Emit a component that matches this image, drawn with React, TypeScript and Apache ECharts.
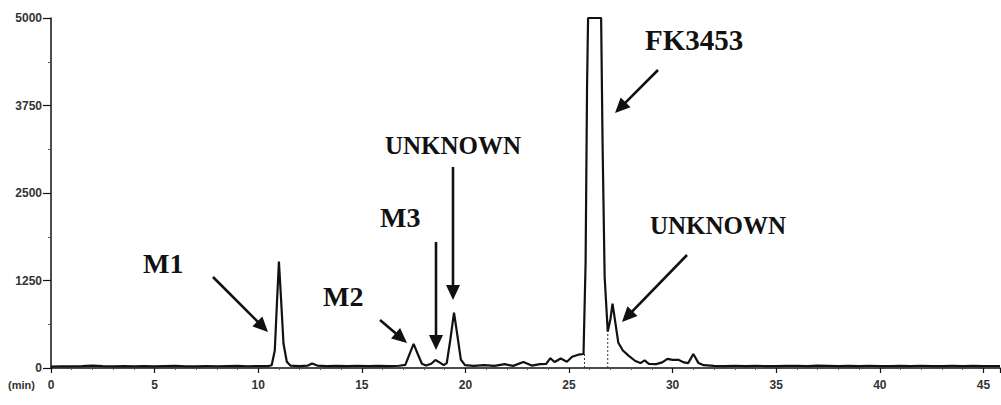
import React, { useEffect, useRef } from "react";
import * as echarts from "echarts";

// Retention time (min) and detector response
const retentionTimes = [
  0, 0.5, 1, 1.5, 2, 2.5, 3, 3.5, 4, 4.5, 5, 5.5, 6, 6.5, 7, 7.5, 8, 8.5, 9, 9.5,
  10, 10.5, 10.65, 10.8, 10.9, 11.0, 11.1, 11.22, 11.38, 11.55, 12, 12.4, 12.6, 12.85,
  13.3, 13.8, 14.3, 14.8, 15.3, 15.8, 16.3, 16.8, 17.1, 17.28, 17.5, 17.7, 17.9,
  18.1, 18.35, 18.55, 18.75, 18.95, 19.1, 19.27, 19.45, 19.62, 19.78, 19.98, 20.4,
  20.9, 21.4, 21.9, 22.3, 22.8, 23.2, 23.6, 23.9, 24.1, 24.3, 24.6, 24.9, 25.15,
  25.45, 25.7, 25.8, 25.87, 25.92, 26.55, 26.62, 26.72, 26.87, 27.0, 27.1, 27.22,
  27.38, 27.6, 27.9, 28.2, 28.45, 28.65, 28.85, 29.2, 29.5, 29.75, 30.0, 30.3,
  30.55, 30.75, 31.0, 31.25, 31.5, 32, 32.5, 33, 33.5, 34, 34.5, 35, 35.5, 36,
  36.5, 37, 37.5, 38, 38.5, 39, 39.5, 40, 40.5, 41, 41.5, 42, 42.5, 43, 43.5, 44,
  44.5, 45, 45.8,
];
const intensity = [
  20, 25, 22, 28, 35, 26, 24, 28, 22, 26, 24, 28, 30, 24, 22, 27, 25, 28, 30, 25,
  26, 28, 40, 250, 900, 1520, 1000, 350, 90, 35, 28, 35, 65, 35,
  28, 30, 26, 32, 28, 30, 26, 32, 45, 180, 345, 200, 60,
  35, 60, 115, 80, 40, 70, 400, 790, 450, 120, 40, 30,
  40, 30, 55, 30, 85, 35, 55, 60, 140, 85, 135, 90, 160,
  190, 200, 1500, 4000, 5000, 5000, 3200, 1300, 520, 700, 920, 680,
  360, 250, 170, 100, 70, 110, 60, 55, 80, 130, 115, 115,
  80, 70, 200, 70, 40, 30, 28, 32, 26, 30, 28, 26, 30, 32,
  28, 34, 30, 26, 30, 28, 32, 28, 26, 30, 28, 32, 28, 26, 30, 28,
  30, 28, 28,
];
// Integration dividers (dotted drop lines)
const dropTimes = [25.75, 26.87];
const dropHeights = [200, 520];

const xTicks = { min: 0, max: 45.8, interval: 5 };
const yTicks = { min: 0, max: 5000, interval: 1250 };

// Peak annotations
const peakLabels = ["M1", "M2", "M3", "UNKNOWN", "FK3453", "UNKNOWN"];

export default function App() {
  const ref = useRef<HTMLDivElement>(null);
  useEffect(() => {
    if (!ref.current) return;
    const chart = echarts.init(ref.current, null, { renderer: "svg" });

    const labelLayout = [
      { x: 143, y: 263, size: 28 },
      { x: 323, y: 296, size: 28 },
      { x: 380, y: 217, size: 28 },
      { x: 385, y: 145, size: 25 },
      { x: 645, y: 40, size: 29 },
      { x: 650, y: 225, size: 25 },
    ];
    const arrowLayout = [
      [213, 277, 268, 332],
      [380, 320, 407, 343],
      [436, 242, 436, 350],
      [453, 167, 453, 300],
      [658, 70, 615, 113],
      [687, 255, 622, 322],
    ];

    const arrow = (x1: number, y1: number, x2: number, y2: number) => {
      const dx = x2 - x1;
      const dy = y2 - y1;
      const len = Math.sqrt(dx * dx + dy * dy);
      const ux = dx / len;
      const uy = dy / len;
      const hl = 15;
      const hw = 7;
      const bx = x2 - ux * hl;
      const by = y2 - uy * hl;
      return {
        type: "group",
        silent: true,
        children: [
          {
            type: "line",
            shape: { x1, y1, x2: bx + ux * 2, y2: by + uy * 2 },
            style: { stroke: "#111", lineWidth: 2.6 },
          },
          {
            type: "polygon",
            shape: {
              points: [
                [x2, y2],
                [bx - uy * hw, by + ux * hw],
                [bx + uy * hw, by - ux * hw],
              ],
            },
            style: { fill: "#111" },
          },
        ],
      };
    };

    const graphics: any[] = [];
    peakLabels.forEach((t, i) => {
      const l = labelLayout[i];
      graphics.push({
        type: "text",
        x: l.x,
        y: l.y,
        silent: true,
        style: {
          text: t,
          fill: "#111",
          font: `bold ${l.size}px "Liberation Serif", "Times New Roman", serif`,
          align: "left",
          verticalAlign: "middle",
        },
      });
    });
    arrowLayout.forEach((a) => graphics.push(arrow(a[0], a[1], a[2], a[3])));
    graphics.push({
      type: "text",
      x: 8,
      y: 385,
      silent: true,
      style: {
        text: "(min)",
        fill: "#333",
        font: 'bold 11px "Liberation Sans", sans-serif',
        align: "left",
        verticalAlign: "middle",
      },
    });

    const seriesData = retentionTimes.map((t, i) => [t, intensity[i]]);
    const dropSeries = dropTimes.map((t, i) => ({
      type: "line",
      data: [
        [t, 0],
        [t, dropHeights[i]],
      ],
      symbol: "none",
      lineStyle: { color: "#333", width: 1, type: [2, 2] },
      silent: true,
    }));

    const axisFont = {
      color: "#333",
      fontSize: 12,
      fontWeight: "bold" as const,
      fontFamily: '"Liberation Sans", sans-serif',
    };

    chart.setOption({
      animation: false,
      backgroundColor: "#fff",
      grid: { left: 51, right: 1, top: 18, bottom: 37, containLabel: false },
      xAxis: {
        type: "value",
        min: xTicks.min,
        max: xTicks.max,
        interval: xTicks.interval,
        axisLine: { lineStyle: { color: "#111", width: 1.5 } },
        axisTick: { length: 5, lineStyle: { color: "#111", width: 1.2 } },
        minorTick: { show: true, splitNumber: 5, length: 2, lineStyle: { color: "#555" } },
        splitLine: { show: false },
        axisLabel: { ...axisFont, margin: 11, showMaxLabel: false, formatter: (v: number) => String(v) },
      },
      yAxis: {
        type: "value",
        min: yTicks.min,
        max: yTicks.max,
        interval: yTicks.interval,
        axisLine: { show: true, lineStyle: { color: "#111", width: 1.5 } },
        axisTick: { show: true, length: 8, lineStyle: { color: "#111", width: 1.2 } },
        minorTick: { show: true, splitNumber: 2, length: 3, lineStyle: { color: "#555" } },
        splitLine: { show: false },
        axisLabel: { ...axisFont, margin: 9, formatter: (v: number) => String(v) },
      },
      series: [
        {
          type: "line",
          data: seriesData,
          symbol: "none",
          lineStyle: { color: "#111", width: 2.2 },
          silent: true,
          z: 3,
        },
        ...dropSeries,
      ],
      graphic: graphics,
    });
    return () => chart.dispose();
  }, []);
  return (
    <div
      ref={ref}
      style={{ position: "absolute", left: 0, top: 0, width: 1001, height: 405 }}
    />
  );
}
